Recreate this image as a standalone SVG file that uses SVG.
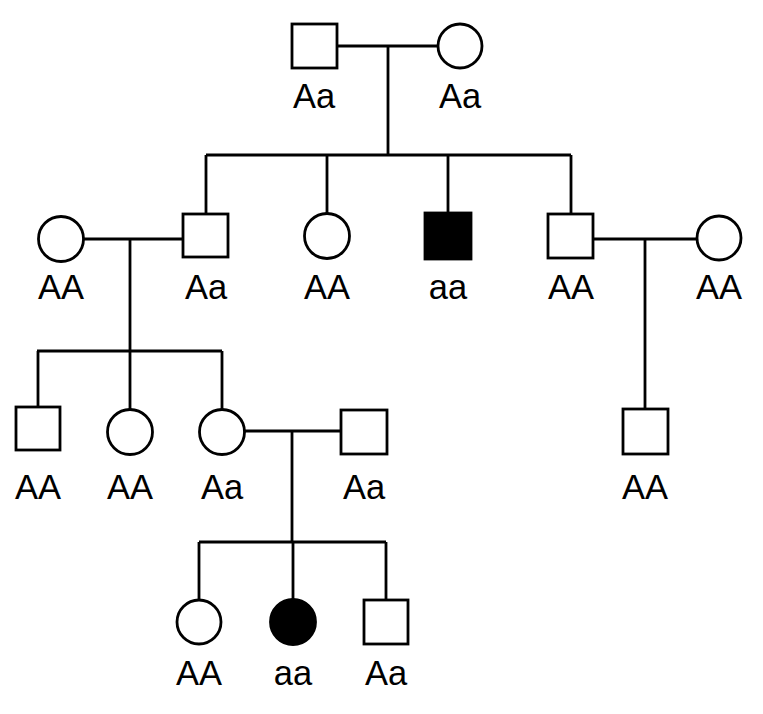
<svg xmlns="http://www.w3.org/2000/svg" width="763" height="714" viewBox="0 0 763 714">
<style>
.s{fill:#fff;stroke:#000;stroke-width:2.8}
.a{fill:#000;stroke:#000;stroke-width:2.8}
.l{fill:none;stroke:#000;stroke-width:2.8}
text{font-family:"Liberation Sans",Arial,sans-serif;font-size:34.5px;text-anchor:middle;fill:#000}
</style>
<rect width="763" height="714" fill="#fff"/>
<g id="connectors">
<path class="l" d="M337 46H438M388 46V155M206 155H571M206 155V214M327 155V214M448 155V213M571 155V214"/>
<path class="l" d="M83 239H183M130 239V351M37 351H222M38 351V407M130 351V410M222 351V410"/>
<path class="l" d="M593 239H697M645 239V409"/>
<path class="l" d="M244 431H341M292 431V542M199 542H386M199 542V600M293 542V600M386 542V600"/>
</g>
<g id="I1"><rect class="s" x="292" y="24" width="45" height="44"/><text x="314" y="108">Aa</text></g>
<g id="I2"><circle class="s" cx="460" cy="46" r="22"/><text x="460" y="108">Aa</text></g>
<g id="II0"><circle class="s" cx="61" cy="239" r="22.5"/><text x="61" y="299">AA</text></g>
<g id="II1"><rect class="s" x="183" y="214" width="45" height="43"/><text x="206" y="299">Aa</text></g>
<g id="II2"><circle class="s" cx="327" cy="236" r="22.5"/><text x="327" y="299">AA</text></g>
<g id="II3"><rect class="a" x="425" y="213" width="46" height="46"/><text x="448" y="299">aa</text></g>
<g id="II4"><rect class="s" x="548" y="214" width="45" height="44"/><text x="571" y="299">AA</text></g>
<g id="II5"><circle class="s" cx="719" cy="238" r="22"/><text x="719" y="299">AA</text></g>
<g id="III1"><rect class="s" x="16" y="407" width="44" height="43"/><text x="38" y="499">AA</text></g>
<g id="III2"><circle class="s" cx="130" cy="432" r="22.5"/><text x="130" y="499">AA</text></g>
<g id="III3"><circle class="s" cx="222" cy="432" r="22.5"/><text x="222" y="499">Aa</text></g>
<g id="III4"><rect class="s" x="341" y="410" width="46" height="44"/><text x="364" y="499">Aa</text></g>
<g id="III5"><rect class="s" x="623" y="409" width="45" height="45"/><text x="645" y="499">AA</text></g>
<g id="IV1"><circle class="s" cx="199" cy="622" r="22"/><text x="199" y="685">AA</text></g>
<g id="IV2"><circle class="a" cx="293" cy="622" r="22.5"/><text x="293" y="685">aa</text></g>
<g id="IV3"><rect class="s" x="364" y="600" width="44" height="44"/><text x="386" y="685">Aa</text></g>
</svg>
